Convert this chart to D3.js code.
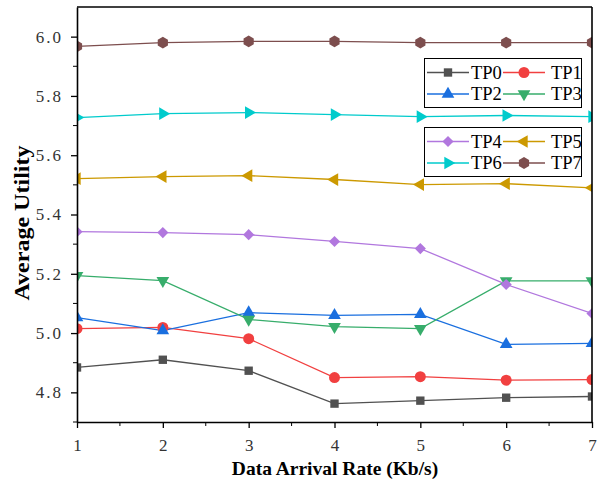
<!DOCTYPE html>
<html>
<head>
<meta charset="utf-8">
<script src="https://cdn.jsdelivr.net/npm/d3@7"></script>
<style>
  body { margin: 0; background: #fff; }
  text { font-family: "Liberation Serif", "DejaVu Serif", serif; }
</style>
</head>
<body>
<div id="chart"></div>
<script>
let width = 603,
    height = 485;

// data
let rates = [1, 2, 3, 4, 5, 6, 7];
let names = ["TP0", "TP1", "TP2", "TP3", "TP4", "TP5", "TP6", "TP7"];
let tp0 = [4.884, 4.910, 4.873, 4.762, 4.772, 4.782, 4.786];
let tp1 = [5.015, 5.019, 4.981, 4.850, 4.853, 4.841, 4.843];
let tp2 = [5.052, 5.008, 5.069, 5.060, 5.063, 4.962, 4.965];
let tp3 = [5.194, 5.177, 5.046, 5.022, 5.015, 5.176, 5.176];
let tp4 = [5.342, 5.339, 5.332, 5.309, 5.285, 5.164, 5.066];
let tp5 = [5.521, 5.528, 5.531, 5.518, 5.501, 5.504, 5.490];
let tp6 = [5.727, 5.740, 5.744, 5.737, 5.730, 5.734, 5.730];
let tp7 = [5.967, 5.980, 5.984, 5.984, 5.980, 5.980, 5.980];
let yTicks = [4.8, 5.0, 5.2, 5.4, 5.6, 5.8, 6.0];

let colors = ["#515151", "#F14040", "#1A6FDF", "#37AD6B", "#B177DE", "#CC9900", "#00CBCC", "#7D4E4E"];
let allSeries = [tp0, tp1, tp2, tp3, tp4, tp5, tp6, tp7];

let margin = {left: 77, right: 11, top: 7, bottom: 63};

let x = d3.scaleLinear().domain([1, 7]).range([margin.left, width - margin.right]);
let y = d3.scaleLinear().domain([4.7, 6.1]).range([height - margin.bottom, margin.top]);

let svg = d3.select("#chart").append("svg")
    .attr("width", width)
    .attr("height", height);

svg.append("defs").append("clipPath").attr("id", "clip")
  .append("rect")
    .attr("x", margin.left).attr("y", margin.top)
    .attr("width", x(7) - x(1)).attr("height", y(4.7) - y(6.1));

// marker shapes
let hexagon = {
  draw: function(ctx, size) {
    let r = Math.sqrt(size / (1.5 * Math.sqrt(3)));
    for (let i = 0; i < 6; i++) {
      let a = Math.PI / 3 * i + Math.PI / 6;
      if (i == 0) ctx.moveTo(r * Math.cos(a), r * Math.sin(a));
      else ctx.lineTo(r * Math.cos(a), r * Math.sin(a));
    }
    ctx.closePath();
  }
};
let markers = [
  {type: d3.symbolSquare, size: 70, rot: 0},
  {type: d3.symbolCircle, size: 95, rot: 0},
  {type: d3.symbolTriangle, size: 70, rot: 0},
  {type: d3.symbolTriangle, size: 70, rot: 180},
  {type: d3.symbolSquare, size: 62, rot: 45},
  {type: d3.symbolTriangle, size: 70, rot: -90},
  {type: d3.symbolTriangle, size: 70, rot: 90},
  {type: hexagon, size: 90, rot: 0}
];

let line = d3.line()
    .x((d, i) => x(rates[i]))
    .y(d => y(d));

let plot = svg.append("g").attr("clip-path", "url(#clip)");

allSeries.forEach((s, k) => {
  plot.append("path")
      .datum(s)
      .attr("d", line)
      .attr("fill", "none")
      .attr("stroke", colors[k])
      .attr("stroke-width", 1.3);
});
allSeries.forEach((s, k) => {
  plot.selectAll(".m" + k)
    .data(s)
    .enter().append("path")
      .attr("class", "m" + k)
      .attr("d", d3.symbol().type(markers[k].type).size(markers[k].size))
      .attr("transform", (d, i) => "translate(" + x(rates[i]) + "," + y(d) + ") rotate(" + markers[k].rot + ")")
      .attr("fill", colors[k]);
});

// axes
let xAxis = svg.append("g")
    .attr("transform", "translate(0," + y(4.7) + ")")
    .call(d3.axisBottom(x).tickValues(rates).tickFormat(d3.format("d")).tickSizeInner(6).tickSizeOuter(0).tickPadding(11));
xAxis.append("g").selectAll("line")
    .data(d3.range(1.5, 7, 1))
  .enter().append("line")
    .attr("x1", d => x(d)).attr("x2", d => x(d))
    .attr("y1", 0).attr("y2", 4)
    .attr("stroke", "#000");

let yAxis = svg.append("g")
    .attr("transform", "translate(" + x(1) + ",0)")
    .call(d3.axisLeft(y).tickValues(yTicks).tickFormat(d3.format(".1f")).tickSizeInner(6).tickSizeOuter(0).tickPadding(8));
yAxis.append("g").selectAll("line")
    .data([4.7, 4.9, 5.1, 5.3, 5.5, 5.7, 5.9])
  .enter().append("line")
    .attr("x1", 0).attr("x2", -4)
    .attr("y1", d => y(d)).attr("y2", d => y(d))
    .attr("stroke", "#000");

svg.selectAll(".domain").attr("stroke-width", 1.6);
svg.selectAll(".tick line").attr("stroke-width", 1.3);
svg.selectAll(".tick text")
    .attr("font-size", 17)
    .attr("fill", "#333");
yAxis.selectAll(".tick text").attr("letter-spacing", 2);

// top and right frame
svg.append("line")
    .attr("x1", x(1)).attr("x2", x(7)).attr("y1", y(6.1)).attr("y2", y(6.1))
    .attr("stroke", "#000").attr("stroke-width", 1.6);
svg.append("line")
    .attr("x1", x(7)).attr("x2", x(7)).attr("y1", y(6.1)).attr("y2", y(4.7))
    .attr("stroke", "#000").attr("stroke-width", 1.6);

// axis titles
svg.append("text")
    .attr("x", 335)
    .attr("y", 475)
    .attr("text-anchor", "middle")
    .attr("font-size", 19.5)
    .attr("font-weight", "bold")
    .text("Data Arrival Rate (Kb/s)");
svg.append("text")
    .attr("transform", "translate(29,223) rotate(-90)")
    .attr("text-anchor", "middle")
    .attr("font-size", 21)
    .attr("font-weight", "bold")
    .attr("textLength", 155)
    .attr("lengthAdjust", "spacingAndGlyphs")
    .text("Average Utility");

// legends: two boxes of four entries
let boxes = [{top: 58, items: [0, 1, 2, 3]}, {top: 127, items: [4, 5, 6, 7]}];
boxes.forEach(b => {
  let g = svg.append("g");
  g.append("rect")
      .attr("x", 424.5).attr("y", b.top + 0.5)
      .attr("width", 157).attr("height", 49)
      .attr("fill", "#fff").attr("stroke", "#000").attr("stroke-width", 1);
  b.items.forEach((k, j) => {
    let col = j % 2, row = Math.floor(j / 2);
    let lx = 427 + col * 76, ly = b.top + 14.5 + row * 21.5;
    g.append("line")
        .attr("x1", lx).attr("x2", lx + 42).attr("y1", ly).attr("y2", ly)
        .attr("stroke", colors[k]).attr("stroke-width", 1.3);
    g.append("path")
        .attr("d", d3.symbol().type(markers[k].type).size(markers[k].size))
        .attr("transform", "translate(" + (lx + 21) + "," + ly + ") rotate(" + markers[k].rot + ")")
        .attr("fill", colors[k]);
    g.append("text")
        .attr("x", lx + (col == 0 ? 44 : 48))
        .attr("y", ly + 6)
        .attr("font-size", 18.5)
        .attr("fill", "#000")
        .text(names[k]);
  });
});
</script>
</body>
</html>
